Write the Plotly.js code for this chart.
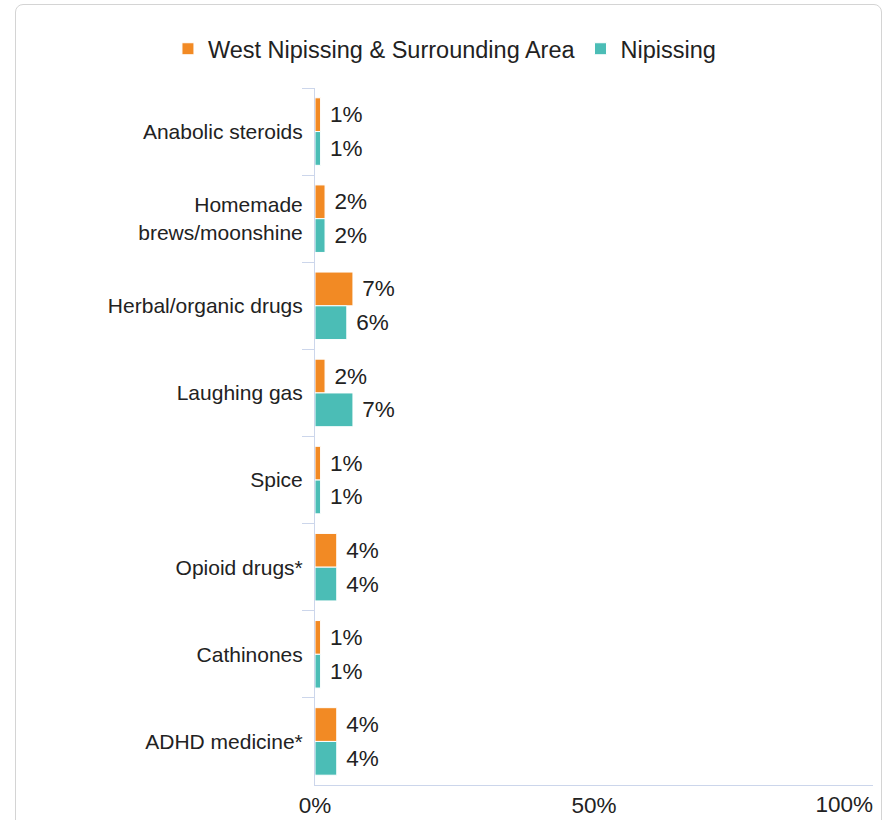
<!DOCTYPE html>
<html>
<head>
<meta charset="utf-8">
<script src="https://cdn.plot.ly/plotly-3.0.1.min.js"></script>
<style>
  html, body { margin: 0; padding: 0; background: #ffffff; }
  #frame { position: absolute; left: 15px; top: 4px; width: 867px; height: 840px;
           border: 1px solid #d4d4d4; border-radius: 8px; box-sizing: border-box; }
  #chart { position: absolute; left: 0; top: 0; width: 889px; height: 820px; }
</style>
</head>
<body>
<div id="frame"></div>
<div id="chart"></div>
<script>
const categories = [
  "Anabolic steroids",
  "Homemade<br>brews/moonshine",
  "Herbal/organic drugs",
  "Laughing gas",
  "Spice",
  "Opioid drugs*",
  "Cathinones",
  "ADHD medicine*"
];
const seriesNames = ["West Nipissing & Surrounding Area", "Nipissing"];
const westValues = [1.0, 1.8, 6.8, 1.8, 1.0, 3.9, 1.0, 3.9];
const nipissingValues = [1.0, 1.8, 5.7, 6.8, 1.0, 3.9, 1.0, 3.9];
const westLabels = ["1%", "2%", "7%", "2%", "1%", "4%", "1%", "4%"];
const nipissingLabels = ["1%", "2%", "6%", "7%", "1%", "4%", "1%", "4%"];
const xTickVals = [0, 50, 100];
const xTickText = ["0%", "50%", "100%"];

const colors = ["#F28A24", "#4BBDB6"];
const fontFamily = "Arial, 'Liberation Sans', Helvetica, sans-serif";
const textColor = "#222222";
const pad = "\u2009\u200A";

function makeTrace(name, vals, labels, color) {
  return {
    type: "bar",
    orientation: "h",
    name: name,
    y: categories,
    x: vals,
    text: labels.map(l => pad + l),
    textposition: "outside",
    textfont: { family: fontFamily, size: 22.5, color: textColor },
    cliponaxis: false,
    marker: { color: color, line: { color: "#ffffff", width: 1 } },
    hoverinfo: "none"
  };
}

const last = xTickVals.length - 1;

const data = [
  makeTrace(seriesNames[0], westValues, westLabels, colors[0]),
  makeTrace(seriesNames[1], nipissingValues, nipissingLabels, colors[1]),
  {
    type: "scatter",
    mode: "markers",
    x: [xTickVals[last]],
    y: [categories[0]],
    xaxis: "x2",
    yaxis: "y",
    marker: { opacity: 0, size: 1 },
    showlegend: false,
    hoverinfo: "none",
    cliponaxis: true
  }
];

const tickFont = { family: fontFamily, size: 22.5, color: textColor };

const layout = {
  width: 889,
  height: 820,
  margin: { l: 315, r: 16, t: 88, b: 35, autoexpand: false },
  paper_bgcolor: "rgba(0,0,0,0)",
  plot_bgcolor: "rgba(0,0,0,0)",
  barmode: "group",
  bargap: 0.225,
  bargroupgap: 0,
  font: { family: fontFamily, color: textColor },
  showlegend: true,
  legend: {
    orientation: "h",
    x: 0.232, xanchor: "center",
    y: 1.056, yanchor: "middle",
    font: { family: fontFamily, size: 23.5, color: textColor },
    itemclick: false,
    traceorder: "normal"
  },
  xaxis: {
    range: [xTickVals[0], xTickVals[last]],
    tickvals: xTickVals.slice(0, last),
    ticktext: xTickText.slice(0, last),
    showgrid: false,
    zeroline: false,
    showline: true,
    linecolor: "#ccd6eb",
    linewidth: 1,
    ticks: "",
    tickfont: tickFont,
    fixedrange: true
  },
  xaxis2: {
    overlaying: "x",
    anchor: "y",
    side: "bottom",
    range: [xTickVals[0], xTickVals[last]],
    tickvals: xTickVals.slice(last),
    ticktext: xTickText.slice(last),
    ticklabelposition: "outside left",
    ticklabelstandoff: 3,
    showgrid: false,
    zeroline: false,
    showline: false,
    ticks: "",
    tickfont: tickFont,
    fixedrange: true
  },
  yaxis: {
    type: "category",
    autorange: "reversed",
    showgrid: false,
    zeroline: false,
    showline: true,
    linecolor: "#ccd6eb",
    linewidth: 1,
    ticks: "outside",
    tickson: "boundaries",
    ticklen: 12,
    tickcolor: "#ccd6eb",
    tickwidth: 1,
    ticklabelstandoff: 7,
    tickfont: { family: fontFamily, size: 21, color: textColor },
    fixedrange: true
  }
};

Plotly.newPlot("chart", data, layout, { displayModeBar: false, staticPlot: true });
</script>
</body>
</html>
